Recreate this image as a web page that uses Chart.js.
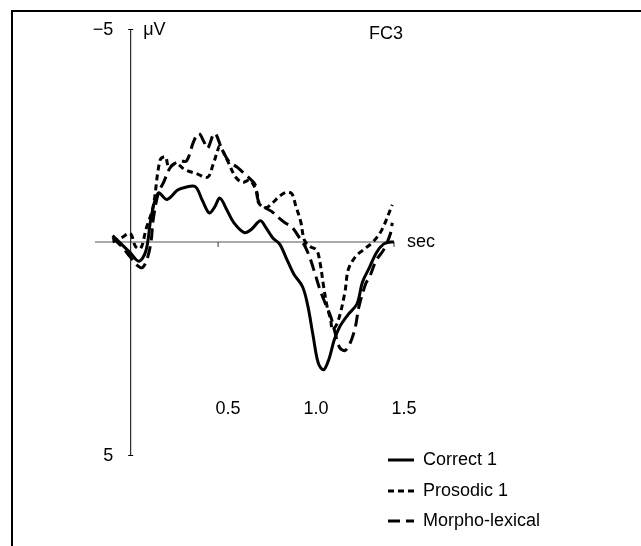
<!DOCTYPE html>
<html>
<head>
<meta charset="utf-8">
<script src="https://cdn.jsdelivr.net/npm/chart.js@4"></script>
<style>
  body { margin: 0; background: #fff; }
  canvas { display: block; }
</style>
</head>
<body>
<canvas id="erpChart" width="641" height="546"></canvas>
<script>
        // values (sec, microvolts; negative is up)
        const correctTimes = [-0.10, -0.05, 0.00, 0.05, 0.09, 0.12, 0.16, 0.21, 0.27, 0.31, 0.37, 0.41, 0.45, 0.48, 0.51, 0.55, 0.59, 0.65, 0.69, 0.74, 0.77, 0.81, 0.85, 0.89, 0.93, 0.98, 1.01, 1.04, 1.07, 1.10, 1.13, 1.16, 1.19, 1.24, 1.29, 1.32, 1.36, 1.40, 1.44, 1.48, 1.50];
        const correctValues = [-0.15, 0.05, 0.25, 0.45, 0.2, -0.6, -1.15, -1.0, -1.22, -1.28, -1.3, -0.98, -0.68, -0.82, -1.03, -0.75, -0.45, -0.22, -0.3, -0.5, -0.35, -0.1, 0.05, 0.4, 0.75, 1.05, 1.5, 2.2, 2.85, 3.0, 2.75, 2.3, 2.0, 1.7, 1.45, 0.95, 0.6, 0.25, 0.05, 0.0, 0.0];

        const prosodicTimes = [-0.10, -0.05, 0.00, 0.03, 0.06, 0.09, 0.13, 0.17, 0.20, 0.22, 0.26, 0.31, 0.38, 0.44, 0.47, 0.50, 0.51, 0.56, 0.60, 0.64, 0.68, 0.72, 0.73, 0.77, 0.81, 0.85, 0.89, 0.92, 0.94, 0.97, 0.99, 1.02, 1.06, 1.08, 1.10, 1.12, 1.14, 1.15, 1.18, 1.22, 1.24, 1.28, 1.32, 1.38, 1.43, 1.49];
        const prosodicValues = [0.0, -0.1, -0.2, 0.1, 0.15, -0.3, -0.82, -1.92, -2.0, -1.76, -1.85, -1.7, -1.6, -1.52, -1.8, -2.18, -2.25, -1.85, -1.52, -1.4, -1.45, -1.17, -0.92, -0.8, -0.92, -1.08, -1.17, -1.13, -0.87, -0.47, -0.05, 0.1, 0.19, 0.5, 1.05, 1.52, 1.83, 2.05, 1.88, 1.2, 0.65, 0.35, 0.2, 0.0, -0.28, -0.87];

        const morphoTimes = [-0.10, -0.05, 0.00, 0.04, 0.07, 0.10, 0.12, 0.13, 0.16, 0.19, 0.23, 0.28, 0.32, 0.36, 0.39, 0.42, 0.44, 0.48, 0.52, 0.56, 0.61, 0.65, 0.69, 0.71, 0.73, 0.77, 0.81, 0.85, 0.88, 0.92, 0.97, 0.99, 1.02, 1.05, 1.08, 1.11, 1.14, 1.16, 1.19, 1.22, 1.25, 1.28, 1.30, 1.34, 1.36, 1.40, 1.44, 1.48, 1.49];
        const morphoValues = [-0.1, 0.1, 0.35, 0.55, 0.6, 0.35, -0.05, -0.5, -1.15, -1.4, -1.76, -1.9, -1.9, -2.35, -2.55, -2.35, -2.2, -2.55, -2.2, -1.9, -1.75, -1.6, -1.45, -1.35, -0.95, -0.8, -0.7, -0.55, -0.45, -0.35, -0.05, 0.07, 0.35, 0.73, 1.13, 1.45, 1.75, 2.05, 2.47, 2.55, 2.38, 2.0, 1.53, 0.97, 0.83, 0.42, 0.19, -0.2, -0.45];

        const seriesNames = ['Correct 1', 'Prosodic 1', 'Morpho-lexical'];
        const seriesDashes = [[], [6, 4], [12, 6]];

        const xTickValues = [0.5, 1.0, 1.5];
        const xTickLabels = ['0.5', '1.0', '1.5'];
        const yTickValues = [-5, 5];
        const yTickLabels = ['\u22125', '5'];

        const FONT = '18px "Liberation Sans", Arial, sans-serif';

        function toPoints(times, values) {
            return times.map((t, i) => ({ x: t, y: values[i] }));
        }

        // axes, labels, legend and frame drawn by hand like the paper figure
        const erpAxes = {
            id: 'erpAxes',
            beforeDatasetsDraw(chart) {
                const ctx = chart.ctx;
                const xs = chart.scales.x, ys = chart.scales.y;
                const x0 = xs.getPixelForValue(0), y0 = ys.getPixelForValue(0);
                ctx.save();
                // horizontal axis
                ctx.strokeStyle = '#555';
                ctx.lineWidth = 1.2;
                ctx.beginPath();
                ctx.moveTo(xs.getPixelForValue(-0.2), y0);
                ctx.lineTo(xs.getPixelForValue(1.5), y0);
                ctx.stroke();
                xTickValues.forEach(v => {
                    const px = xs.getPixelForValue(v);
                    ctx.beginPath();
                    ctx.moveTo(px, y0);
                    ctx.lineTo(px, y0 + 5);
                    ctx.stroke();
                });
                // vertical axis
                ctx.strokeStyle = '#000';
                ctx.lineWidth = 1;
                ctx.beginPath();
                ctx.moveTo(x0 + 0.5, ys.getPixelForValue(-5));
                ctx.lineTo(x0 + 0.5, ys.getPixelForValue(5));
                ctx.stroke();
                yTickValues.forEach(v => {
                    const py = ys.getPixelForValue(v);
                    ctx.beginPath();
                    ctx.moveTo(x0 - 2, py + 0.5);
                    ctx.lineTo(x0 + 3, py + 0.5);
                    ctx.stroke();
                });
                ctx.restore();
            },
            afterDraw(chart) {
                const ctx = chart.ctx;
                const xs = chart.scales.x, ys = chart.scales.y;
                const x0 = xs.getPixelForValue(0), y0 = ys.getPixelForValue(0);
                ctx.save();
                ctx.fillStyle = '#000';
                ctx.font = FONT;
                ctx.textBaseline = 'middle';
                // y tick labels
                ctx.textAlign = 'right';
                yTickValues.forEach((v, i) => {
                    ctx.fillText(yTickLabels[i], x0 - 17, ys.getPixelForValue(v) + 1);
                });
                ctx.textAlign = 'left';
                ctx.fillText('\u03bcV', x0 + 13, ys.getPixelForValue(-5) + 1);
                ctx.fillText('sec', xs.getPixelForValue(1.5) + 13, y0);
                // x tick labels sit under the plot
                ctx.textAlign = 'center';
                xTickValues.forEach((v, i) => {
                    ctx.fillText(xTickLabels[i], xs.getPixelForValue(v) + 10, 409);
                });
                ctx.fillText('FC3', 386, 34);
                // legend
                const lx = 388, rows = [460, 491, 521];
                seriesNames.forEach((name, i) => {
                    ctx.strokeStyle = '#000';
                    ctx.lineWidth = 3;
                    ctx.setLineDash(seriesDashes[i]);
                    ctx.beginPath();
                    ctx.moveTo(lx, rows[i]);
                    ctx.lineTo(lx + 26, rows[i]);
                    ctx.stroke();
                    ctx.setLineDash([]);
                    ctx.textAlign = 'left';
                    ctx.fillText(name, lx + 35, rows[i]);
                });
                // frame (top and left edges)
                ctx.lineWidth = 2;
                ctx.beginPath();
                ctx.moveTo(12, 546);
                ctx.lineTo(12, 11);
                ctx.lineTo(641, 11);
                ctx.stroke();
                ctx.restore();
            }
        };

        const lineStyle = {
            borderColor: '#000',
            borderWidth: 3,
            pointRadius: 0,
            fill: false,
            tension: 0.35
        };

        new Chart(document.getElementById('erpChart'), {
            type: 'line',
            data: {
                datasets: [
                    { ...lineStyle, label: seriesNames[0], data: toPoints(correctTimes, correctValues), borderDash: seriesDashes[0] },
                    { ...lineStyle, label: seriesNames[1], data: toPoints(prosodicTimes, prosodicValues), borderDash: seriesDashes[1] },
                    { ...lineStyle, label: seriesNames[2], data: toPoints(morphoTimes, morphoValues), borderDash: seriesDashes[2] }
                ]
            },
            options: {
                responsive: false,
                animation: false,
                layout: { padding: { left: 95, right: 247, top: 29, bottom: 91 } },
                scales: {
                    x: { type: 'linear', min: -0.2, max: 1.5, display: false },
                    y: { min: -5, max: 5, reverse: true, display: false }
                },
                plugins: {
                    legend: { display: false },
                    tooltip: { enabled: false }
                }
            },
            plugins: [erpAxes]
        });
</script>
</body>
</html>
